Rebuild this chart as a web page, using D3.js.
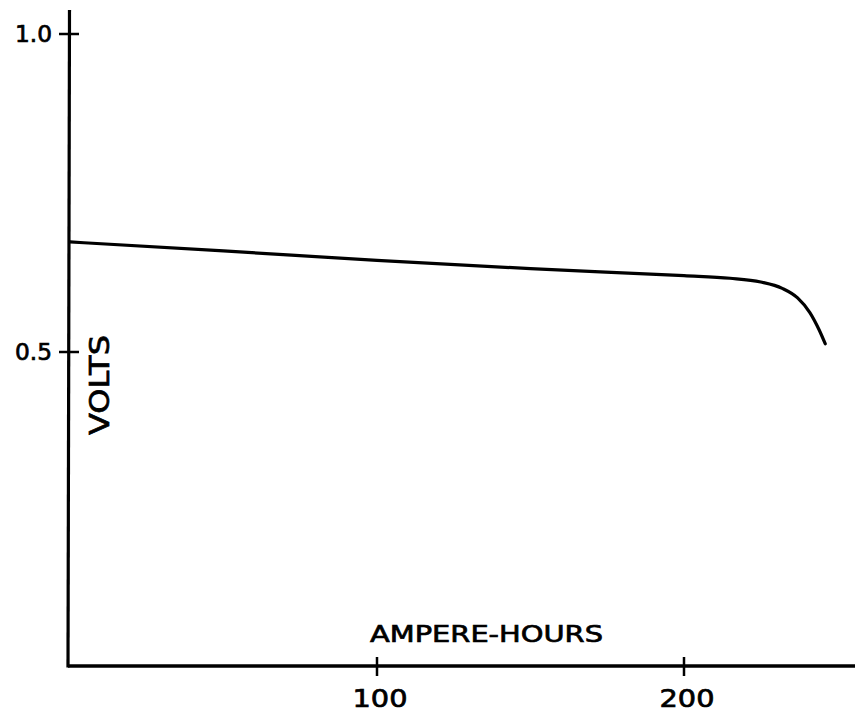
<!DOCTYPE html>
<html><head><meta charset="utf-8">
<script src="https://cdn.jsdelivr.net/npm/d3@7"></script>
<style>body{margin:0;background:#fff}svg{display:block}</style>
</head><body>
<svg id="c" width="860" height="713"></svg>
<script>
const ampereHours = [0, 50, 100, 150, 200, 215, 225, 232, 237, 241, 244, 246];
const volts       = [0.673, 0.659, 0.644, 0.631, 0.620, 0.616, 0.610, 0.600, 0.585, 0.562, 0.535, 0.513];
const xTicks = [100, 200];
const xTickLabels = ["100", "200"];
const yTicks = [0.5, 1.0];
const yTickLabels = ["0.5", "1.0"];
const xLabel = "AMPERE-HOURS";
const yLabel = "VOLTS";

const svg = d3.select("#c");
const x = d3.scaleLinear().domain([0, 100]).range([70, 377]);
const y = d3.scaleLinear().domain([0, 1]).range([670, 34]);
const axisX = 68, axisY = 666;
const font = "'DejaVu Sans', sans-serif";

function txt(sel) {
  return sel.attr("font-family", font).attr("fill", "#000").attr("stroke", "#000")
    .attr("stroke-width", 0.7).attr("lengthAdjust", "spacingAndGlyphs");
}

// axes lines
svg.append("line").attr("x1", axisX).attr("x2", 855).attr("y1", axisY).attr("y2", axisY)
  .attr("stroke", "#000").attr("stroke-width", 3.5);
svg.append("line").attr("x1", axisX + 1.5).attr("x2", axisX).attr("y1", 10).attr("y2", axisY + 1.5)
  .attr("stroke", "#000").attr("stroke-width", 3.2);

// x ticks
const xt = svg.append("g").selectAll("g").data(xTicks).join("g");
xt.append("line").attr("x1", d => x(d)).attr("x2", d => x(d)).attr("y1", axisY - 9).attr("y2", axisY + 10)
  .attr("stroke", "#000").attr("stroke-width", 2.5);
txt(xt.append("text")).attr("x", d => x(d) + 3).attr("y", 707).attr("text-anchor", "middle")
  .attr("font-size", 25).attr("textLength", 55)
  .text((d, i) => xTickLabels[i]);

// y ticks
const yt = svg.append("g").selectAll("g").data(yTicks).join("g");
yt.append("line").attr("x1", axisX - 9).attr("x2", axisX + 11).attr("y1", d => y(d)).attr("y2", d => y(d))
  .attr("stroke", "#000").attr("stroke-width", 2.5);
txt(yt.append("text")).attr("x", 52).attr("y", d => y(d) + 8).attr("text-anchor", "end")
  .attr("font-size", 23).attr("textLength", 37)
  .text((d, i) => yTickLabels[i]);

// axis labels
txt(svg.append("text")).attr("x", 370).attr("y", 642)
  .attr("font-size", 23).attr("textLength", 233)
  .text(xLabel);
txt(svg.append("text")).attr("transform", "translate(109,435) rotate(-90)")
  .attr("font-size", 26).attr("textLength", 100)
  .text(yLabel);

// curve
const pts = ampereHours.map((a, i) => [a, volts[i]]);
const line = d3.line().x(d => x(d[0])).y(d => y(d[1])).curve(d3.curveMonotoneX);
svg.append("path").attr("d", line(pts)).attr("fill", "none").attr("stroke", "#000")
  .attr("stroke-width", 3.2).attr("stroke-linecap", "round");
</script>
</body></html>
